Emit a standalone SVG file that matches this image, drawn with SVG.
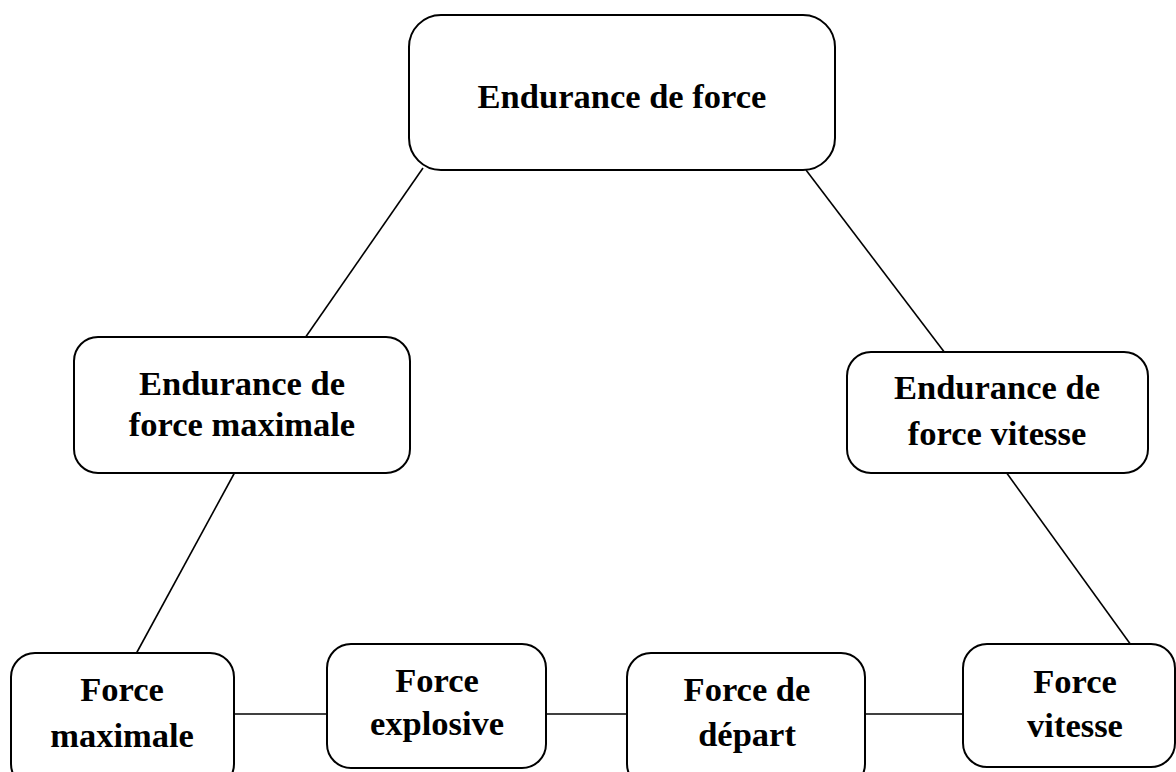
<svg xmlns="http://www.w3.org/2000/svg" width="1176" height="772" viewBox="0 0 1176 772">
<style>
.box{fill:#fff;stroke:#000;stroke-width:2}
.lbl{font-family:"Liberation Serif","Times New Roman",serif;font-weight:bold;font-size:34.5px;fill:#000;text-anchor:middle}
.con{stroke:#000;stroke-width:1.6;fill:none}
</style>
<rect width="1176" height="772" fill="#fff"/>
<g id="connectors">
<line class="con" x1="423" y1="168" x2="305" y2="338"/>
<line class="con" x1="806" y1="170" x2="945" y2="353"/>
<line class="con" x1="235" y1="472" x2="136" y2="654"/>
<line class="con" x1="1006" y1="472" x2="1131" y2="645"/>
<line class="con" x1="234" y1="714" x2="327" y2="714"/>
<line class="con" x1="546" y1="714" x2="627" y2="714"/>
<line class="con" x1="865" y1="714" x2="963" y2="714"/>
</g>
<g id="n-endurance-force">
<rect class="box" x="409" y="15" width="426" height="155" rx="32"/>
<text class="lbl" x="622" y="108">Endurance de force</text>
</g>
<g id="n-endurance-max">
<rect class="box" x="74" y="337" width="336" height="136" rx="24"/>
<text class="lbl" x="242" y="395">Endurance de</text>
<text class="lbl" x="242" y="436">force maximale</text>
</g>
<g id="n-endurance-vitesse">
<rect class="box" x="847" y="352" width="301" height="121" rx="24"/>
<text class="lbl" x="997" y="399">Endurance de</text>
<text class="lbl" x="997" y="445">force vitesse</text>
</g>
<g id="n-force-max">
<rect class="box" x="11" y="653" width="223" height="135" rx="24"/>
<text class="lbl" x="122" y="701">Force</text>
<text class="lbl" x="122" y="747">maximale</text>
</g>
<g id="n-force-explosive">
<rect class="box" x="327" y="644" width="219" height="124" rx="24"/>
<text class="lbl" x="437" y="692">Force</text>
<text class="lbl" x="437" y="735">explosive</text>
</g>
<g id="n-force-depart">
<rect class="box" x="627" y="653" width="238" height="135" rx="24"/>
<text class="lbl" x="747" y="701">Force de</text>
<text class="lbl" x="747" y="746">départ</text>
</g>
<g id="n-force-vitesse">
<rect class="box" x="963" y="644" width="212" height="123" rx="24"/>
<text class="lbl" x="1075" y="693">Force</text>
<text class="lbl" x="1075" y="737">vitesse</text>
</g>
</svg>
